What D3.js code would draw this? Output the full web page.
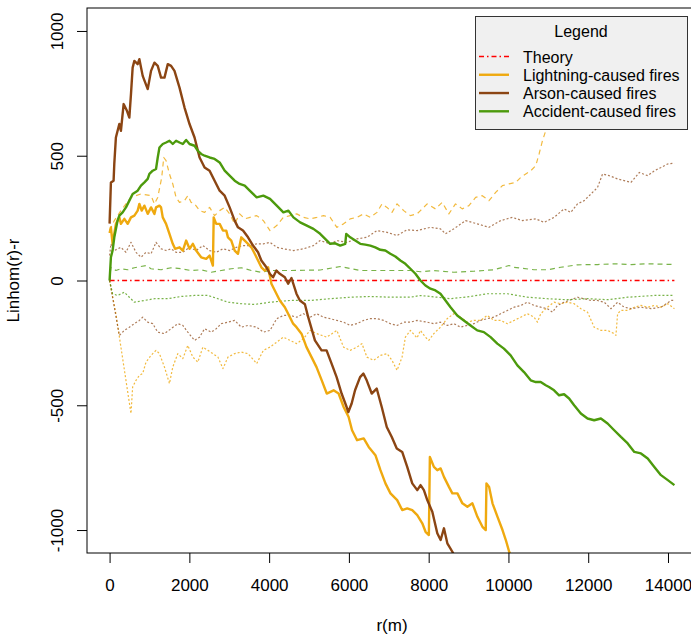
<!DOCTYPE html>
<html>
<head>
<meta charset="utf-8">
<script src="https://cdn.jsdelivr.net/npm/d3@7"></script>
<style>
body { margin: 0; background: #fff; }
text { font-family: Arial, "Liberation Sans", sans-serif; fill: #000; }
</style>
</head>
<body>
<div class="chart"></div>
<script>
(function(){

// data: [r (m), Linhom(r)-r]
var theory = [[0, 0], [14161, 0]];

var lightningObs = [[0,190],[33,213],[75,147],[158,227],[244,253],[284,227],[370,247],[453,227],[536,253],[621,260],[704,280],[747,307],[805,280],[873,300],[956,267],[1039,293],[1124,267],[1164,293],[1250,300],[1290,293],[1333,253],[1416,227],[1501,187],[1584,147],[1642,127],[1753,133],[1836,120],[1919,160],[2004,127],[2087,147],[2170,120],[2296,93],[2422,87],[2507,100],[2590,60],[2610,253],[2673,227],[2759,227],[2842,200],[2925,200],[2968,173],[3051,160],[3136,120],[3219,107],[3302,173],[3388,160],[3471,147],[3554,133],[3639,107],[3722,80],[3805,53],[3891,40],[3974,53],[4057,-13],[4142,-40],[4268,-80],[4394,-107],[4477,-133],[4602,-173],[4685,-187],[4811,-213],[4937,-267],[5063,-307],[5188,-347],[5319,-400],[5445,-453],[5616,-440],[5742,-453],[5868,-507],[5993,-547],[6079,-600],[6205,-640],[6371,-633],[6496,-667],[6665,-700],[6791,-760],[6916,-813],[7042,-853],[7210,-880],[7336,-920],[7462,-913],[7588,-920],[7714,-940],[7840,-973],[7922,-1007],[8005,-1020],[8030,-707],[8131,-747],[8216,-760],[8300,-753],[8383,-787],[8508,-827],[8594,-853],[8720,-853],[8845,-893],[8971,-907],[9097,-893],[9222,-947],[9348,-987],[9431,-1000],[9449,-813],[9515,-827],[9600,-893],[9726,-947],[9851,-1000],[9934,-1040],[10018,-1087],[10200,-1160]];

var lightningHi = [[0,200],[118,240],[284,280],[536,333],[787,347],[1039,340],[1124,307],[1207,333],[1307,413],[1358,493],[1416,480],[1501,427],[1584,387],[1667,333],[1753,313],[1879,320],[1961,340],[2045,313],[2130,307],[2256,280],[2382,273],[2507,293],[2633,260],[2759,280],[2885,293],[3010,267],[3136,227],[3261,267],[3388,247],[3520,253],[3688,260],[3855,240],[4022,200],[4191,220],[4357,253],[4525,260],[4693,267],[4860,253],[5028,247],[5195,253],[5363,260],[5530,253],[5698,213],[5866,227],[6033,247],[6201,253],[6369,267],[6536,253],[6704,273],[6829,307],[6955,293],[7081,273],[7207,307],[7374,280],[7542,260],[7710,267],[7793,280],[7962,307],[8170,287],[8339,313],[8506,267],[8673,307],[8841,287],[9009,300],[9177,333],[9344,340],[9512,320],[9680,353],[9848,380],[10014,387],[10182,393],[10308,413],[10434,427],[10559,440],[10685,460],[10768,507],[10853,560],[10935,600],[11018,640],[11300,760],[12000,880],[13000,950],[14161,1000]];

var lightningLo = [[0,0],[158,-133],[284,-267],[410,-400],[536,-533],[578,-427],[662,-400],[747,-380],[830,-373],[913,-327],[1039,-300],[1164,-280],[1250,-293],[1376,-347],[1501,-413],[1584,-347],[1710,-293],[1836,-313],[1961,-260],[2087,-307],[2213,-327],[2339,-267],[2465,-280],[2590,-293],[2716,-307],[2842,-353],[2968,-307],[3136,-293],[3302,-287],[3471,-293],[3688,-333],[3855,-280],[4022,-267],[4191,-247],[4357,-227],[4525,-240],[4693,-253],[4860,-233],[5028,-200],[5195,-213],[5446,-227],[5698,-200],[5866,-267],[6033,-280],[6201,-267],[6327,-253],[6452,-307],[6620,-320],[6788,-300],[6955,-293],[7081,-320],[7207,-360],[7333,-307],[7416,-227],[7542,-200],[7710,-230],[7793,-200],[7919,-227],[8003,-240],[8128,-213],[8296,-187],[8464,-153],[8631,-133],[8799,-147],[8967,-167],[9134,-160],[9302,-160],[9470,-140],[9637,-160],[9805,-160],[9973,-173],[10140,-160],[10308,-147],[10475,-133],[10643,-147],[10727,-167],[10811,-133],[10977,-107],[11144,-87],[11312,-93],[11480,-87],[11647,-93],[11815,-113],[11983,-127],[12149,-187],[12318,-200],[12486,-200],[12652,-213],[12695,-220],[12737,-133],[12820,-120],[12990,-120],[13156,-107],[13324,-100],[13492,-107],[13658,-100],[13827,-107],[13995,-93],[14161,-113]];

var arsonObs = [[0,228],[33,393],[100,400],[118,468],[158,573],[244,627],[284,600],[352,707],[435,680],[495,653],[536,747],[578,853],[621,880],[704,867],[747,887],[830,820],[956,767],[1039,840],[1124,873],[1207,860],[1290,813],[1376,813],[1459,867],[1542,860],[1627,840],[1753,773],[1879,693],[2004,627],[2130,573],[2256,493],[2382,453],[2507,440],[2633,400],[2759,360],[2885,340],[3010,293],[3136,240],[3219,213],[3345,200],[3471,173],[3596,140],[3722,113],[3805,80],[3931,53],[4016,27],[4099,13],[4182,40],[4268,27],[4394,13],[4477,-13],[4560,10],[4685,-53],[4771,-80],[4897,-95],[4980,-147],[5148,-240],[5314,-280],[5440,-280],[5566,-333],[5692,-387],[5817,-453],[5943,-507],[5986,-527],[6069,-493],[6154,-440],[6280,-387],[6363,-373],[6446,-400],[6572,-453],[6697,-433],[6823,-507],[6949,-587],[7075,-627],[7200,-673],[7336,-687],[7462,-747],[7588,-813],[7714,-840],[7797,-820],[7880,-840],[7965,-880],[8091,-927],[8216,-1013],[8300,-1040],[8383,-993],[8468,-1053],[8594,-1087],[8800,-1160]];

var arsonHi = [[0,100],[33,147],[118,120],[284,133],[410,113],[536,153],[662,113],[787,93],[913,113],[1039,107],[1164,153],[1290,127],[1416,120],[1542,127],[1667,113],[1836,113],[2004,133],[2170,120],[2339,140],[2507,120],[2674,113],[2842,127],[3010,120],[3177,133],[3345,140],[3520,140],[3688,147],[3855,147],[4022,153],[4191,133],[4357,127],[4609,120],[4860,127],[5111,140],[5279,160],[5530,147],[5698,160],[5949,153],[6201,167],[6452,173],[6704,200],[6955,193],[7207,180],[7458,203],[7710,200],[8045,213],[8296,207],[8422,187],[8631,207],[8925,240],[9218,227],[9512,213],[9805,240],[10099,253],[10350,240],[10685,247],[10894,233],[11144,253],[11395,287],[11563,273],[11731,307],[11899,320],[12234,373],[12360,427],[12528,420],[12737,407],[12905,400],[13072,393],[13282,433],[13492,420],[13660,440],[13826,453],[13994,467],[14161,470]];

var arsonLo = [[0,0],[244,-220],[370,-200],[495,-187],[621,-173],[747,-160],[830,-147],[956,-167],[1081,-173],[1207,-207],[1376,-213],[1542,-193],[1710,-173],[1836,-180],[1961,-207],[2130,-240],[2256,-227],[2382,-193],[2548,-207],[2674,-193],[2799,-173],[2968,-167],[3136,-160],[3302,-187],[3471,-180],[3688,-187],[3855,-207],[4022,-200],[4191,-153],[4357,-140],[4525,-140],[4693,-147],[4860,-133],[5028,-147],[5195,-133],[5363,-147],[5530,-153],[5698,-160],[5866,-167],[6033,-180],[6201,-173],[6369,-160],[6536,-153],[6704,-153],[6871,-160],[7039,-173],[7207,-180],[7374,-167],[7542,-167],[7710,-160],[7962,-167],[8128,-173],[8296,-167],[8464,-180],[8631,-173],[8799,-187],[8967,-180],[9134,-173],[9302,-160],[9470,-153],[9637,-147],[9805,-133],[9973,-120],[10140,-107],[10308,-100],[10475,-87],[10643,-100],[10811,-107],[10977,-113],[11103,-127],[11229,-100],[11395,-87],[11563,-77],[11731,-67],[11899,-73],[12067,-80],[12234,-80],[12402,-87],[12570,-113],[12737,-87],[12905,-107],[13072,-113],[13324,-107],[13576,-113],[13827,-107],[14079,-80],[14161,-80]];

var accidentObs = [[0,0],[33,93],[75,120],[118,173],[200,240],[244,260],[327,273],[410,293],[495,320],[578,347],[704,360],[787,380],[873,393],[956,407],[998,427],[1081,440],[1164,447],[1207,493],[1250,533],[1333,547],[1416,553],[1501,560],[1584,547],[1667,560],[1753,553],[1836,547],[1919,563],[2004,547],[2130,540],[2213,520],[2296,507],[2382,500],[2507,493],[2633,487],[2759,473],[2885,440],[3010,420],[3136,400],[3261,387],[3388,380],[3513,360],[3688,333],[3855,340],[4022,327],[4191,300],[4357,273],[4483,280],[4609,253],[4777,233],[4945,220],[5111,207],[5279,187],[5405,167],[5530,147],[5656,149],[5782,140],[5908,147],[5933,187],[6033,173],[6159,160],[6285,147],[6411,144],[6536,140],[6662,133],[6788,123],[6913,120],[7039,107],[7165,96],[7290,80],[7416,67],[7542,47],[7668,27],[7793,0],[7919,-20],[8045,-33],[8170,-40],[8296,-53],[8422,-80],[8548,-107],[8716,-140],[8882,-160],[9050,-180],[9218,-200],[9384,-207],[9553,-227],[9721,-253],[9887,-273],[10055,-300],[10224,-340],[10390,-367],[10558,-400],[10684,-407],[10809,-407],[10935,-420],[11018,-427],[11144,-440],[11270,-460],[11395,-456],[11521,-473],[11647,-500],[11815,-533],[11983,-553],[12149,-560],[12318,-553],[12486,-573],[12652,-600],[12820,-627],[12990,-653],[13156,-687],[13322,-693],[13492,-713],[13658,-747],[13824,-780],[13995,-800],[14161,-820]];

var accidentHi = [[0,0],[33,53],[158,40],[284,47],[453,43],[621,51],[909,60],[1039,47],[1290,43],[1542,51],[1793,47],[2045,40],[2296,43],[2548,33],[2799,40],[3051,47],[3302,51],[3554,40],[3805,33],[4022,40],[4525,40],[5279,42],[5782,56],[6285,40],[6871,40],[7542,40],[7793,35],[8128,40],[8631,33],[9134,37],[9637,43],[10014,60],[10140,53],[10643,43],[10977,43],[11312,53],[11731,63],[12234,64],[12652,67],[13072,64],[13492,67],[14161,64]];

var accidentLo = [[0,0],[75,-53],[200,-60],[370,-47],[495,-67],[621,-87],[873,-80],[1124,-73],[1459,-73],[1793,-64],[2130,-60],[2465,-60],[2716,-73],[2968,-87],[3302,-93],[3639,-96],[4022,-87],[4525,-80],[5028,-80],[5530,-73],[6033,-67],[6536,-64],[7039,-67],[7542,-67],[7793,-60],[8213,-67],[8548,-73],[9050,-64],[9470,-53],[9973,-53],[10475,-67],[10977,-73],[11480,-77],[11983,-73],[12486,-77],[12990,-67],[13658,-60],[14161,-60]];

var xTicks = [0, 2000, 4000, 6000, 8000, 10000, 12000, 14000];
var yTicks = [-1000, -500, 0, 500, 1000];
var legendLabels = ["Theory", "Lightning-caused fires", "Arson-caused fires", "Accident-caused fires"];

var orange = "#efa90f", brown = "#8b4513", green = "#4c9a0c", red = "#ff0000";

var width = 691, height = 637;
var plot = {left: 87, right: 697, top: 8, bottom: 553};

var svg = d3.select(".chart")
    .append("svg")
    .attr("width", width)
    .attr("height", height);

svg.append("rect").attr("width", width).attr("height", height).attr("fill", "#fff");

// R style axis limits: data range padded by 4%
var rMax = 14161;
var x = d3.scaleLinear()
    .domain([-0.04 * rMax, rMax * 1.04])
    .range([plot.left, plot.right]);
var y = d3.scaleLinear()
    .domain([-1050 * 1.04, 1050 * 1.04])
    .range([plot.bottom, plot.top]);

svg.append("clipPath").attr("id", "clip")
    .append("rect")
    .attr("x", plot.left).attr("y", plot.top)
    .attr("width", plot.right - plot.left)
    .attr("height", plot.bottom - plot.top);

var line = d3.line()
    .x(function(d){ return x(d[0]); })
    .y(function(d){ return y(d[1]); });

var lines = svg.append("g").attr("clip-path", "url(#clip)");

function draw(data, color, w, dash, op){
    lines.append("path")
        .datum(data)
        .attr("d", line)
        .attr("fill", "none")
        .attr("stroke", color)
        .attr("stroke-width", w)
        .attr("stroke-opacity", op)
        .attr("stroke-linejoin", "round")
        .attr("stroke-dasharray", dash);
}

// envelopes (thin, lighter)
draw(lightningHi, orange, 1.2, "5,4", 0.8);
draw(lightningLo, orange, 1.2, "2,2", 0.8);
draw(arsonHi, brown, 1.2, "2,2", 0.7);
draw(arsonLo, brown, 1.2, "2,2", 0.7);
draw(accidentHi, green, 1.2, "5,4", 0.75);
draw(accidentLo, green, 1.2, "2,2", 0.75);

draw(theory, red, 1.3, "5,3,1.5,3", 1);

// observed curves
draw(lightningObs, orange, 2.4, null, 1);
draw(arsonObs, brown, 2.4, null, 1);
draw(accidentObs, green, 2.4, null, 1);

// box
svg.append("rect")
    .attr("x", plot.left).attr("y", plot.top)
    .attr("width", plot.right - plot.left)
    .attr("height", plot.bottom - plot.top)
    .attr("fill", "none").attr("stroke", "#000").attr("stroke-width", 1);

// plain hyphen minus like R
var fmt = function(d){ return String(d); };

// x axis
var xAxis = svg.append("g")
    .attr("transform", "translate(0," + plot.bottom + ")")
    .call(d3.axisBottom(x).tickValues(xTicks).tickSize(10).tickPadding(16).tickFormat(fmt));
xAxis.select(".domain").remove();
xAxis.selectAll("line").attr("stroke", "#000");
xAxis.selectAll("text").attr("font-size", "17px").attr("fill", "#000")
    .style("font-family", "Arial, 'Liberation Sans', sans-serif");

// y axis (labels parallel to axis like R's las=0)
var yAxis = svg.append("g")
    .attr("transform", "translate(" + plot.left + ",0)")
    .call(d3.axisLeft(y).tickValues(yTicks).tickSize(10).tickFormat(fmt));
yAxis.select(".domain").remove();
yAxis.selectAll("line").attr("stroke", "#000");
yAxis.selectAll("text")
    .attr("x", null).attr("dy", null)
    .attr("text-anchor", "middle")
    .attr("transform", "translate(-24.5,0) rotate(-90)")
    .attr("font-size", "17px").attr("fill", "#000")
    .style("font-family", "Arial, 'Liberation Sans', sans-serif");

// axis titles
svg.append("text")
    .attr("x", (plot.left + plot.right) / 2)
    .attr("y", 631)
    .attr("text-anchor", "middle")
    .attr("font-size", "17px")
    .text("r(m)");
svg.append("text")
    .attr("transform", "translate(18.5," + (plot.top + plot.bottom) / 2 + ") rotate(-90)")
    .attr("text-anchor", "middle")
    .attr("font-size", "17px")
    .text("Linhom(r)-r");

// legend
var legend = svg.append("g");
legend.append("rect")
    .attr("x", 475.5).attr("y", 16.5)
    .attr("width", 212).attr("height", 113)
    .attr("fill", "#f0f0f0").attr("stroke", "#333").attr("stroke-width", 1);
legend.append("text")
    .attr("x", 581).attr("y", 36.5)
    .attr("text-anchor", "middle")
    .attr("font-size", "16px")
    .text("Legend");

var legColors = [red, orange, brown, green];
var legDash = ["5,3,1.5,3", null, null, null];
var legW = [1.3, 2.4, 2.4, 2.4];
var rowY = d3.scaleLinear().domain([0, 3]).range([62.5, 117.3]);

legend.selectAll(".item")
    .data(legendLabels)
    .enter()
    .append("g")
    .attr("class", "item")
    .each(function(d, i){
        var g = d3.select(this);
        g.append("line")
            .attr("x1", 479).attr("x2", 509)
            .attr("y1", rowY(i) - 6).attr("y2", rowY(i) - 6)
            .attr("stroke", legColors[i])
            .attr("stroke-width", legW[i])
            .attr("stroke-dasharray", legDash[i]);
        g.append("text")
            .attr("x", 523).attr("y", rowY(i))
            .attr("font-size", "16px")
            .text(d);
    });

})();
</script>
</body>
</html>
